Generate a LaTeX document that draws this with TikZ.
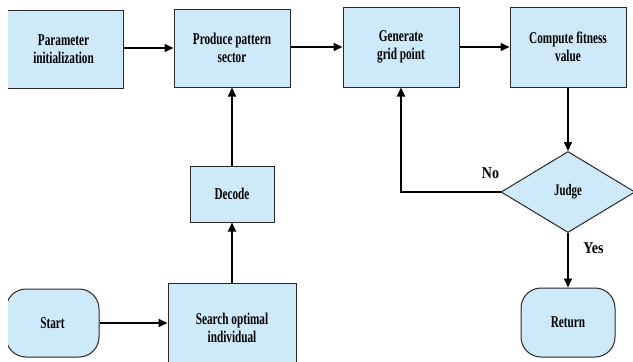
\documentclass[tikz,border=0pt]{standalone}
\usepackage{fontspec}
\setmainfont{Liberation Serif}[FakeStretch=0.68]
\newfontfamily\labelfont{Liberation Serif}[FakeStretch=0.85]
\usetikzlibrary{shapes.geometric,arrows.meta}
\definecolor{boxfill}{RGB}{205,233,250}
\definecolor{boxline}{RGB}{40,40,40}
\tikzset{
  procbox/.style={draw=boxline,line width=1pt,fill=boxfill,inner sep=0pt,align=center,
    font=\fontsize{16.5}{18}\selectfont\bfseries},
  termbox/.style={procbox,rounded corners=20pt},
  judgebox/.style={draw=boxline,line width=1pt,fill=boxfill,diamond,inner sep=0pt,
    font=\fontsize{16}{18}\selectfont\bfseries},
  flow/.style={line width=2pt,-{Triangle[length=9pt,width=8pt]}},
  lab/.style={font=\labelfont\fontsize{16.5}{18}\selectfont\bfseries}
}
\begin{document}
\begin{tikzpicture}[x=1pt,y=-1pt]
\useasboundingbox (0,0) rectangle (633,362);
\begin{scope}
\clip (8,0) rectangle (633,362);
\node[procbox,minimum width=119pt,minimum height=78pt] (param) at (63.5,49) {Parameter\\initialization};
\node[procbox,minimum width=116pt,minimum height=78pt] (produce) at (232,48) {Produce pattern\\sector};
\node[procbox,minimum width=116pt,minimum height=80pt] (generate) at (401,47) {Generate\\grid point};
\node[procbox,minimum width=116pt,minimum height=80pt] (compute) at (568,47) {Compute fitness\\value};
\node[procbox,minimum width=84pt,minimum height=56pt] (decode) at (232,194) {Decode};
\node[procbox,minimum width=128pt,minimum height=90pt] (search) at (232,328) {Search optimal\\individual};
\node[termbox,minimum width=93pt,minimum height=68pt] (start) at (52.5,323) {Start};
\node[termbox,minimum width=94pt,minimum height=69pt] (return) at (568,322.5) {Return};
\node[judgebox,minimum width=134pt,minimum height=81pt] (judge) at (568,192) {Judge};

\draw[flow] (param.east |- 0,48) -- (produce.west |- 0,48);
\draw[flow] (produce.east |- 0,47) -- (generate.west |- 0,47);
\draw[flow] (generate.east) -- (compute.west);
\draw[flow] (compute.south) -- (judge.north);
\draw[flow] (judge.west) -| (generate.south);
\draw[flow] (judge.south) -- (return.north);
\draw[flow] (start.east |- 0,323) -- (search.west |- 0,323);
\draw[flow] (search.north -| decode.south) -- (decode.south);
\draw[flow] (decode.north) -- (produce.south);
\node[lab] (no) at (490.5,173) {No};
\node[lab] (yes) at (593.5,248) {Yes};
\end{scope}
\end{tikzpicture}
\end{document}
